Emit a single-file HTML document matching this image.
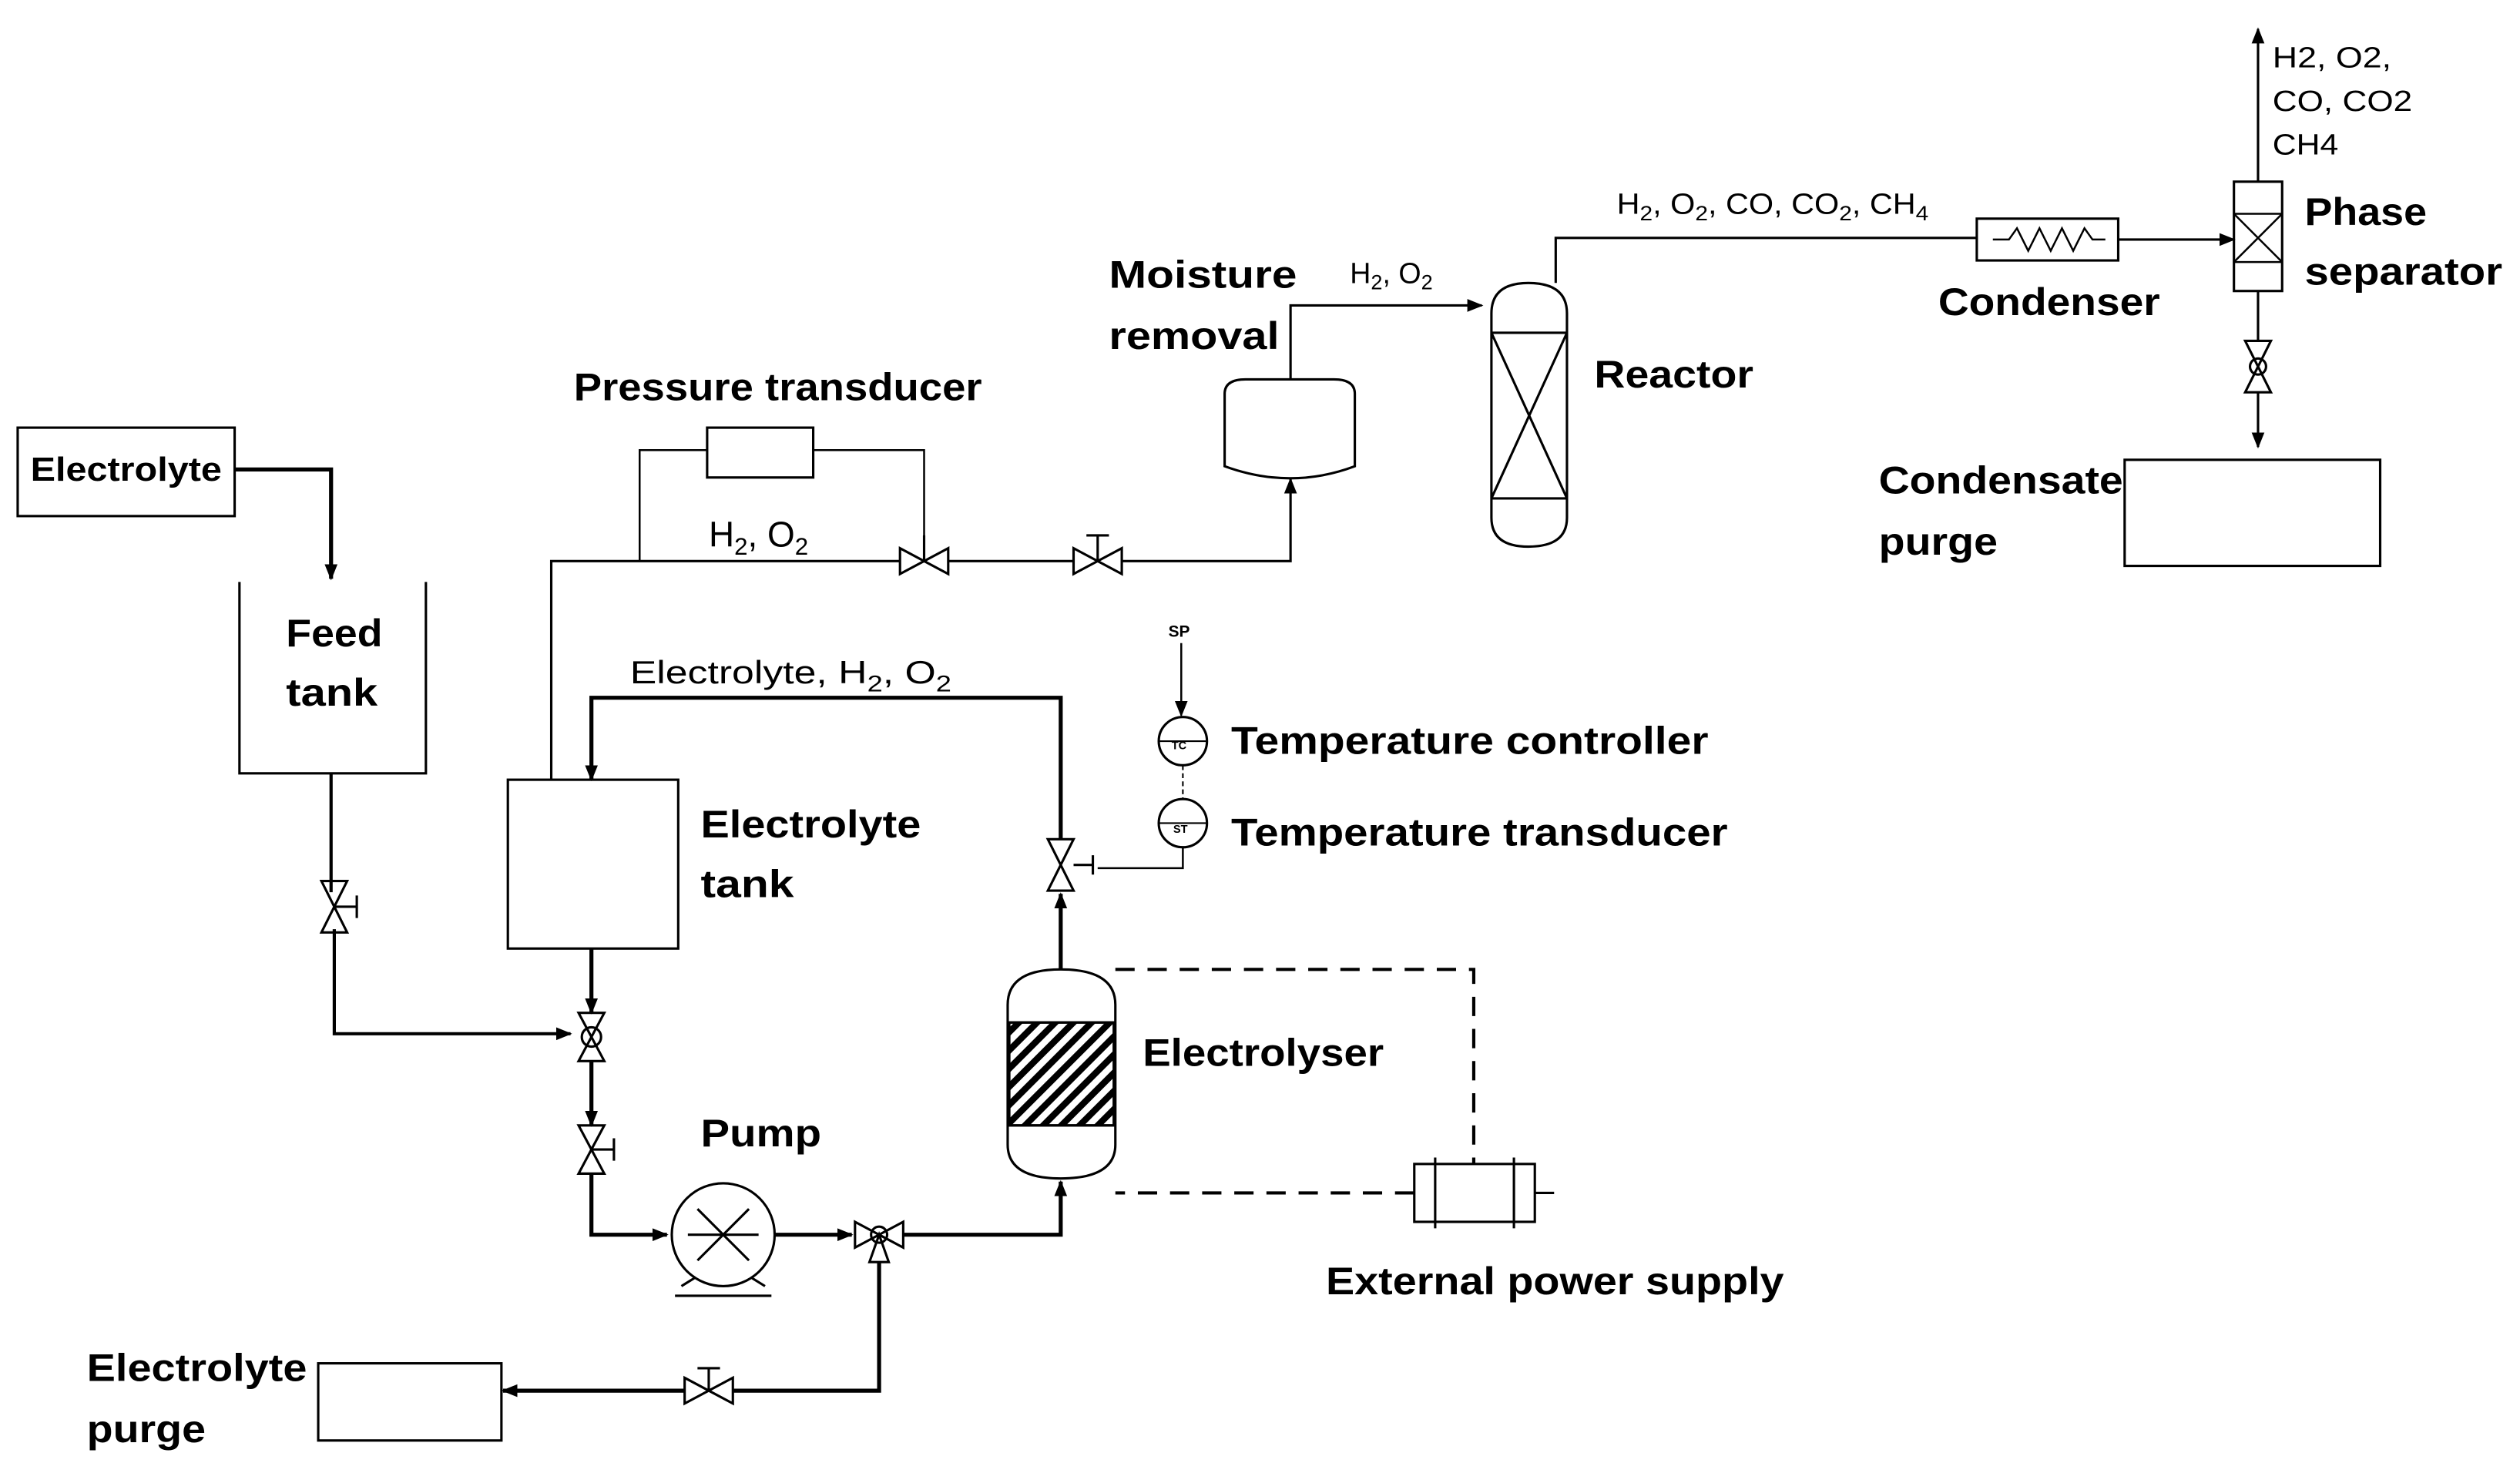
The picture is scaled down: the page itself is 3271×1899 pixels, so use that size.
<!DOCTYPE html>
<html><head><meta charset="utf-8"><style>html,body{margin:0;padding:0;background:#fff}svg{display:block}</style></head><body>
<svg width="3271" height="1899" viewBox="0 0 1568 910" preserveAspectRatio="none" xmlns="http://www.w3.org/2000/svg" font-family="Liberation Sans, sans-serif">
<defs>
<marker id="a" markerWidth="10" markerHeight="10" refX="9" refY="5" orient="auto" markerUnits="userSpaceOnUse"><path d="M0,1 L10,5 L0,9z" fill="#000"/></marker>
<pattern id="h" width="8" height="8" patternUnits="userSpaceOnUse" patternTransform="rotate(45)"><rect width="4" height="8" fill="#000"/></pattern>
</defs>
<g fill="none" stroke="#000" stroke-width="2">
<rect x="11" y="266" width="135" height="55" stroke-width="1.5"/>
<path d="M146 292 H206 V360" marker-end="url(#a)" stroke-width="2.5"/>
<path d="M149 362 V481 H265 V362" stroke-width="1.5"/>
<path d="M206 481 V555 M208 578 V643 H355" marker-end="url(#a)"/>
<path d="M200 548 L216 548 L200 580 L216 580 Z M208 564 H222 M222 557 V571" stroke-width="1.5"/>
<rect x="316" y="485" width="106" height="105" stroke-width="1.5"/>
<path d="M343 485 V349 H560 M590 349 H668 M698 349 H803 V298" marker-end="url(#a)" stroke-width="1.5"/>
<path d="M560 341 L560 357 L590 341 L590 357 Z M668 341 L668 357 L698 341 L698 357 Z M575 349 V333 M683 349 V333 M676 333 H690" stroke-width="1.5"/>
<rect x="440" y="266" width="66" height="31" stroke-width="1.5"/>
<path d="M398 349 V280 H440 M506 280 H575 V340" stroke-width="1.2"/>
<path d="M762 245 Q762 236 775 236 H830 Q843 236 843 245 V290 Q803 305 762 290 Z" stroke-width="1.5"/>
<path d="M803 236 V190 H922" marker-end="url(#a)" stroke-width="1.5"/>
<path d="M928 195 Q928 176 951 176 Q975 176 975 195 V322 Q975 340 951 340 Q928 340 928 322 Z M928 207 H975 M928 310 H975 M928 207 L975 310 M975 207 L928 310" stroke-width="1.5"/>
<path d="M968 176 V148 H1230" stroke-width="1.5"/>
<rect x="1230" y="136" width="88" height="26" stroke-width="1.5"/>
<path d="M1240 149 H1250 L1255 142 L1262 156 L1269 142 L1276 156 L1283 142 L1290 156 L1297 142 L1302 149 H1310" stroke-width="1.2"/>
<path d="M1318 149 H1390" marker-end="url(#a)" stroke-width="1.5"/>
<rect x="1390" y="113" width="30" height="68" stroke-width="1.5"/>
<path d="M1390 133 H1420 V163 H1390 M1390 133 L1420 163 M1420 133 L1390 163" stroke-width="1.2"/>
<path d="M1405 113 V18" marker-end="url(#a)" stroke-width="1.5"/>
<path d="M1405 181 V212 M1397 212 H1413 L1397 244 H1413 Z M1405 244 V278" stroke-width="1.5" marker-end="url(#a)"/>
<circle cx="1405" cy="228" r="5" stroke-width="1.5"/>
<rect x="1322" y="286" width="159" height="66" stroke-width="1.5"/>
<path d="M660 522 V434 H368 V485" marker-end="url(#a)" stroke-width="2.5"/>
<path d="M652 522 H668 L652 554 H668 Z M668 538 H680 M680 532 V544" stroke-width="1.5"/>
<path d="M735 400 V445" marker-end="url(#a)" stroke-width="1.2"/>
<circle cx="736" cy="461" r="15" stroke-width="1.5"/><path d="M721 461 H751 M721 512 H751" stroke-width="1"/>
<path d="M736 476 V497" stroke-width="1" stroke-dasharray="3,2"/>
<circle cx="736" cy="512" r="15" stroke-width="1.5"/>
<path d="M736 527 V540 H683" stroke-width="1.2"/>
<path d="M660 603 V556" marker-end="url(#a)" stroke-width="2.5"/>
<rect x="628" y="636" width="65" height="64" fill="url(#h)" stroke-width="1.5"/>
<path d="M627 625 Q627 603 660 603 Q694 603 694 625 V712 Q694 733 660 733 Q627 733 627 712 Z M627 636 H694 M627 700 H694" stroke-width="1.5"/>
<path d="M694 603 H917 V724 M880 742 H694" stroke-dasharray="12,8" stroke-width="2"/>
<rect x="880" y="724" width="75" height="36" stroke-width="1.5"/>
<path d="M893 720 V764 M942 720 V764 M870 742 H880 M955 742 H967" stroke-width="1.5"/>
<path d="M368 590 V630" marker-end="url(#a)" stroke-width="2.5"/>
<path d="M360 630 H376 L360 660 H376 Z" stroke-width="1.5"/><circle cx="368" cy="645" r="6" stroke-width="1.5"/>
<path d="M368 660 V700" marker-end="url(#a)" stroke-width="2.5"/>
<path d="M360 700 H376 L360 730 H376 Z M368 715 H382 M382 708 V722" stroke-width="1.5"/>
<path d="M368 730 V768 H415" marker-end="url(#a)" stroke-width="2.5"/>
<circle cx="450" cy="768" r="32" stroke-width="1.5"/>
<path d="M434 752 L466 784 M466 752 L434 784 M428 768 H472 M424 800 L432 795 M476 800 L468 795 M420 806 H480" stroke-width="1.5"/>
<path d="M482 768 H530" marker-end="url(#a)" stroke-width="2.5"/>
<path d="M532 760 V776 L562 760 V776 Z M541 785 H553 L547 768 Z" stroke-width="1.5"/><circle cx="547" cy="768" r="5" stroke-width="1.5"/>
<path d="M562 768 H660 V735" marker-end="url(#a)" stroke-width="2.5"/>
<path d="M547 785 V865 H456 M426 865 H313" marker-end="url(#a)" stroke-width="2.5"/>
<path d="M426 857 V873 L456 857 V873 Z M441 865 V851 M434 851 H448" stroke-width="1.5"/>
<rect x="198" y="848" width="114" height="48" stroke-width="1.5"/>
</g>
<g fill="#000" font-weight="bold" font-size="24" lengthAdjust="spacingAndGlyphs">
<text x="19" y="299" font-size="21" textLength="119" lengthAdjust="spacingAndGlyphs">Electrolyte</text>
<text x="178" y="402" textLength="60" lengthAdjust="spacingAndGlyphs">Feed</text><text x="178" y="439" textLength="57" lengthAdjust="spacingAndGlyphs">tank</text>
<text x="436" y="521" textLength="137" lengthAdjust="spacingAndGlyphs">Electrolyte</text><text x="436" y="558" textLength="58" lengthAdjust="spacingAndGlyphs">tank</text>
<text x="357" y="249" textLength="254" lengthAdjust="spacingAndGlyphs">Pressure transducer</text>
<text x="690" y="179" textLength="117" lengthAdjust="spacingAndGlyphs">Moisture</text><text x="690" y="217" textLength="106" lengthAdjust="spacingAndGlyphs">removal</text>
<text x="992" y="241" textLength="99" lengthAdjust="spacingAndGlyphs">Reactor</text>
<text x="1206" y="196" textLength="138" lengthAdjust="spacingAndGlyphs">Condenser</text>
<text x="1434" y="140" textLength="76" lengthAdjust="spacingAndGlyphs">Phase</text><text x="1434" y="177" textLength="123" lengthAdjust="spacingAndGlyphs">separator</text>
<text x="1169" y="307" textLength="152" lengthAdjust="spacingAndGlyphs">Condensate</text><text x="1169" y="345" textLength="74" lengthAdjust="spacingAndGlyphs">purge</text>
<text x="766" y="469" textLength="297" lengthAdjust="spacingAndGlyphs">Temperature controller</text>
<text x="766" y="526" textLength="309" lengthAdjust="spacingAndGlyphs">Temperature transducer</text>
<text x="711" y="663" textLength="150" lengthAdjust="spacingAndGlyphs">Electrolyser</text>
<text x="436" y="713" textLength="75" lengthAdjust="spacingAndGlyphs">Pump</text>
<text x="825" y="805" textLength="285" lengthAdjust="spacingAndGlyphs">External power supply</text>
<text x="54" y="859" textLength="137" lengthAdjust="spacingAndGlyphs">Electrolyte</text><text x="54" y="897" textLength="74" lengthAdjust="spacingAndGlyphs">purge</text>
</g>
<g fill="#000" font-size="20">
<text x="441" y="340" font-size="22">H<tspan font-size="15" dy="5">2</tspan><tspan dy="-5">, O</tspan><tspan font-size="15" dy="5">2</tspan></text>
<text x="840" y="176" font-size="18">H<tspan font-size="13" dy="4">2</tspan><tspan dy="-4">, O</tspan><tspan font-size="13" dy="4">2</tspan></text>
<text x="1006" y="133" font-size="18" textLength="194" lengthAdjust="spacingAndGlyphs">H<tspan font-size="13" dy="4">2</tspan><tspan dy="-4">, O</tspan><tspan font-size="13" dy="4">2</tspan><tspan dy="-4">, CO, CO</tspan><tspan font-size="13" dy="4">2</tspan><tspan dy="-4">, CH</tspan><tspan font-size="13" dy="4">4</tspan></text>
<text x="392" y="425" textLength="200" lengthAdjust="spacingAndGlyphs">Electrolyte, H<tspan font-size="14" dy="5">2</tspan><tspan dy="-5">, O</tspan><tspan font-size="14" dy="5">2</tspan></text>
<text x="1414" y="42" font-size="18" textLength="74" lengthAdjust="spacingAndGlyphs">H2, O2,</text>
<text x="1414" y="69" font-size="18" textLength="87" lengthAdjust="spacingAndGlyphs">CO, CO2</text>
<text x="1414" y="96" font-size="18" textLength="41" lengthAdjust="spacingAndGlyphs">CH4</text>
<text x="727" y="396" font-size="10" font-weight="bold">SP</text>
<text x="729" y="466" font-size="7" font-weight="bold">TC</text>
<text x="730" y="518" font-size="7" font-weight="bold">ST</text>
</g>
</svg>
</body></html>
